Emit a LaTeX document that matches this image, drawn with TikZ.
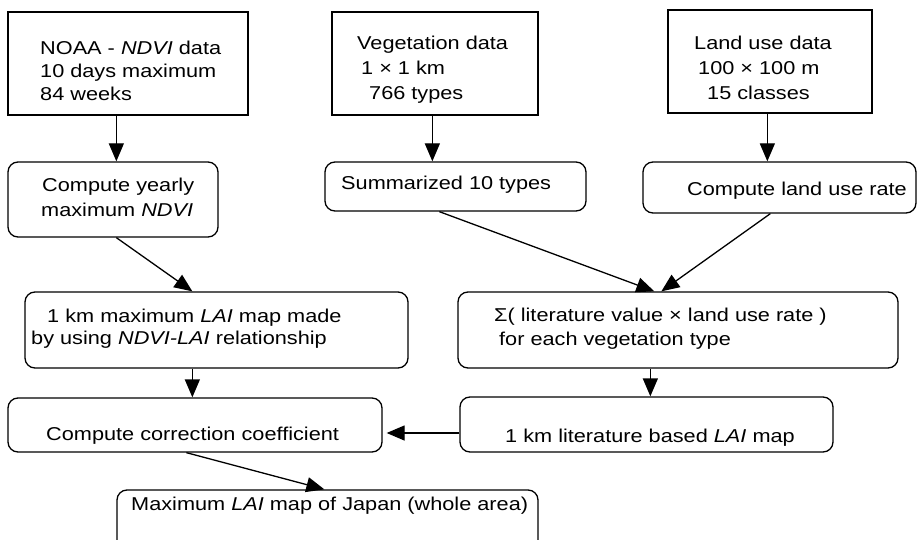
\documentclass[tikz,border=0pt]{standalone}
\usepackage{fontspec}
\setmainfont{Liberation Sans}[FakeStretch=1.167]
\usetikzlibrary{arrows.meta}
\tikzset{
  sqbox/.style={draw, line width=1.3pt, rectangle, inner sep=0pt},
  rbox/.style={sqbox, rounded corners=10pt},
  txt/.style={anchor=base west, inner sep=0pt, font=\fontsize{18.6}{23}\selectfont},
  flow/.style={line width=1.3pt, -{Triangle[length=18pt,width=15pt]}},
}
\begin{document}
\begin{tikzpicture}[x=1pt,y=-1pt]
\clip (0,0) rectangle (918,540);
\fill[white] (0,0) rectangle (918,540);
% boxes
\node[sqbox, minimum width=240pt, minimum height=103pt] (noaa) at (128,63.5) {};
\node[sqbox, minimum width=206pt, minimum height=103pt] (veg) at (435,63.5) {};
\node[sqbox, minimum width=204pt, minimum height=103pt] (land) at (770,61.5) {};
\node[rbox, minimum width=210pt, minimum height=75pt] (yearly) at (113,199.5) {};
\node[rbox, minimum width=261pt, minimum height=49pt] (summ) at (455.5,186.5) {};
\node[rbox, minimum width=273pt, minimum height=51pt] (lrate) at (779.5,187.5) {};
\node[rbox, minimum width=383pt, minimum height=76pt] (maxlai) at (216.5,330) {};
\node[rbox, minimum width=440pt, minimum height=76pt] (sigma) at (678,330) {};
\node[rbox, minimum width=374pt, minimum height=54pt] (corr) at (195,425) {};
\node[rbox, minimum width=373pt, minimum height=55pt] (lit) at (646.5,424.5) {};
\node[rbox, minimum width=421pt, minimum height=80pt] (japan) at (327.5,530) {};
% texts
\node[txt] (t1a) at (40,55) {NOAA - \textit{NDVI} data};
\node[txt] (t1b) at (40,78) {10 days maximum};
\node[txt] (t1c) at (40,101) {84 weeks};
\node[txt] (t2a) at (357,50) {Vegetation data};
\node[txt] (t2b) at (361,75) {1 × 1 km};
\node[txt] (t2c) at (369,100) {766 types};
\node[txt] (t3a) at (694,50) {Land use data};
\node[txt] (t3b) at (698,75) {100 × 100 m};
\node[txt] (t3c) at (707,100) {15 classes};
\node[txt] (t4a) at (42,192) {Compute yearly};
\node[txt] (t4b) at (41,216) {maximum \textit{NDVI}};
\node[txt] (t5) at (341,190) {Summarized 10 types};
\node[txt] (t6) at (687,196) {Compute land use rate};
\node[txt] (t7a) at (47,322) {1 km maximum \textit{LAI} map made};
\node[txt] (t7b) at (31,344) {by using \textit{NDVI-LAI} relationship};
\node[txt] (t8a) at (494,321) {Σ( literature value × land use rate )};
\node[txt] (t8b) at (499,345) {for each vegetation type};
\node[txt] (t9) at (46,440) {Compute correction coefficient};
\node[txt] (t10) at (505,442) {1 km literature based \textit{LAI} map};
\node[txt] (t11) at (131,510) {Maximum \textit{LAI} map of Japan (whole area)};
% connectors
\draw[flow] ([xshift=109pt]noaa.south west) -- ([xshift=109pt]yearly.north west);
\draw[flow] ([xshift=101pt]veg.south west) -- ([xshift=108pt]summ.north west);
\draw[flow] ([xshift=100pt]land.south west) -- ([xshift=125pt]lrate.north west);
\draw[flow] ([xshift=109pt]yearly.south west) -- ([xshift=168pt]maxlai.north west);
\draw[flow] ([xshift=115pt]summ.south west) -- ([xshift=197pt]sigma.north west);
\draw[flow] ([xshift=128pt]lrate.south west) -- ([xshift=204pt]sigma.north west);
\draw[flow] ([xshift=168pt]maxlai.south west) -- ([xshift=185pt]corr.north west);
\draw[flow] ([xshift=193pt]sigma.south west) -- ([xshift=191pt]lit.north west);
\draw[flow] ([yshift=-8.5pt]lit.west) -- ([xshift=4pt,yshift=-8pt]corr.east);
\draw[flow] ([xshift=179pt]corr.south west) -- ([xshift=208pt]japan.north west);
\end{tikzpicture}
\end{document}
